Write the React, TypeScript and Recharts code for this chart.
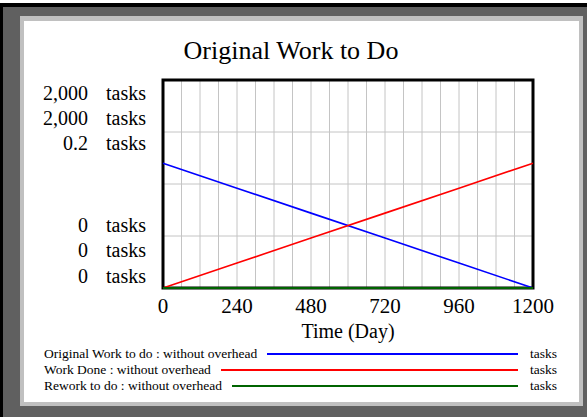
import React from 'react';
import { LineChart, Line, XAxis, YAxis, CartesianGrid, ReferenceArea } from 'recharts';

const time = [0, 240, 480, 720, 960, 1200];
const originalWork = [1200, 960, 720, 480, 240, 0];
const workDone = [0, 240, 480, 720, 960, 1200];
const rework = [0, 0, 0, 0, 0, 0];

const gridTicks = [0, 60, 120, 180, 240, 300, 360, 420, 480, 540, 600, 660, 720, 780, 840, 900, 960, 1020, 1080, 1140, 1200];
const labelTicks = [0, 240, 480, 720, 960, 1200];
const yTicks = [0, 500, 1000, 1500, 2000];

const seriesNames = ['Original Work to do : without overhead', 'Work Done : without overhead', 'Rework to do : without overhead'];
const seriesColors = ['#0000ff', '#ff0000', '#006400'];
const axisMax = ['2,000', '2,000', '0.2'];
const axisMin = ['0', '0', '0'];
const unit = 'tasks';

const data = time.map((t, i) => ({ t, originalWork: originalWork[i], workDone: workDone[i], rework: rework[i] }));

const serif = '"Liberation Serif", "Times New Roman", serif';

export default function App() {
  return (
    <div style={{ position: 'absolute', left: 0, top: 0, width: 587, height: 417, background: '#606060', overflow: 'hidden', fontFamily: serif }}>
      {/* frame */}
      <div style={{ position: 'absolute', left: 0, top: 0, width: 587, height: 3, background: '#fff' }} />
      <div style={{ position: 'absolute', left: 0, top: 3, width: 587, height: 4, background: '#000' }} />
      <div style={{ position: 'absolute', left: 0, top: 3, width: 3, height: 414, background: '#000' }} />
      <div style={{ position: 'absolute', left: 20, top: 16, width: 563, height: 390, background: '#c0c0c0' }} />
      <div style={{ position: 'absolute', left: 24, top: 21, width: 555, height: 381, background: '#fff' }} />

      {/* title + scale labels */}
      <svg width={587} height={417} style={{ position: 'absolute', left: 0, top: 0 }}>
        <text x={291} y={59} textAnchor="middle" fontSize={26} fontFamily={serif} fill="#000">Original Work to Do</text>
        {axisMax.map((v, i) => (
          <g key={'max' + i}>
            <text x={88} y={100 + i * 25} textAnchor="end" fontSize={20} fontFamily={serif}>{v}</text>
            <text x={106} y={100 + i * 25} fontSize={20} fontFamily={serif}>{unit}</text>
          </g>
        ))}
        {axisMin.map((v, i) => (
          <g key={'min' + i}>
            <text x={88} y={232 + i * 25.3} textAnchor="end" fontSize={20} fontFamily={serif}>{v}</text>
            <text x={106} y={232 + i * 25.3} fontSize={20} fontFamily={serif}>{unit}</text>
          </g>
        ))}
      </svg>

      <div style={{ position: 'absolute', left: 0, top: 0 }}>
        <LineChart width={587} height={417} data={data} margin={{ top: 80, right: 54, bottom: 99, left: 163 }}>
          <CartesianGrid stroke="#c4c4c4" strokeWidth={1} />
          <XAxis
            dataKey="t"
            type="number"
            domain={[0, 1200]}
            ticks={gridTicks}
            interval={0}
            height={30}
            axisLine={false}
            tickLine={false}
            tickMargin={4}
            tick={{ fontSize: 21, fill: '#000', fontFamily: serif }}
            tickFormatter={(v: number) => (labelTicks.includes(v) ? String(v) : '')}
            label={{ value: 'Time (Day)', position: 'bottom', offset: 6, fontSize: 20, fill: '#000', fontFamily: serif }}
          />
          <YAxis yAxisId={0} hide domain={[0, 2000]} ticks={yTicks} />
          <YAxis yAxisId="rework" hide domain={[0, 0.2]} />
          <ReferenceArea x1={0} x2={1200} y1={0} y2={2000} fill="none" fillOpacity={0} stroke="#000" strokeWidth={3} />
          <Line dataKey="originalWork" stroke={seriesColors[0]} strokeWidth={1.6} dot={false} isAnimationActive={false} />
          <Line dataKey="workDone" stroke={seriesColors[1]} strokeWidth={1.6} dot={false} isAnimationActive={false} />
          <Line yAxisId="rework" dataKey="rework" stroke={seriesColors[2]} strokeWidth={2.2} dot={false} isAnimationActive={false} />
        </LineChart>
      </div>

      {/* legend */}
      <div style={{ position: 'absolute', left: 44, top: 346, width: 513, fontSize: 13.5, lineHeight: '16px', color: '#000' }}>
        {seriesNames.map((name, i) => (
          <div key={name} style={{ display: 'flex', alignItems: 'center', height: 16 }}>
            <span style={{ whiteSpace: 'nowrap' }}>{name}</span>
            <div style={{ flex: 1, height: 0, borderTop: `2px solid ${seriesColors[i]}`, margin: '0 12px 0 10px' }} />
            <span>{unit}</span>
          </div>
        ))}
      </div>
    </div>
  );
}
